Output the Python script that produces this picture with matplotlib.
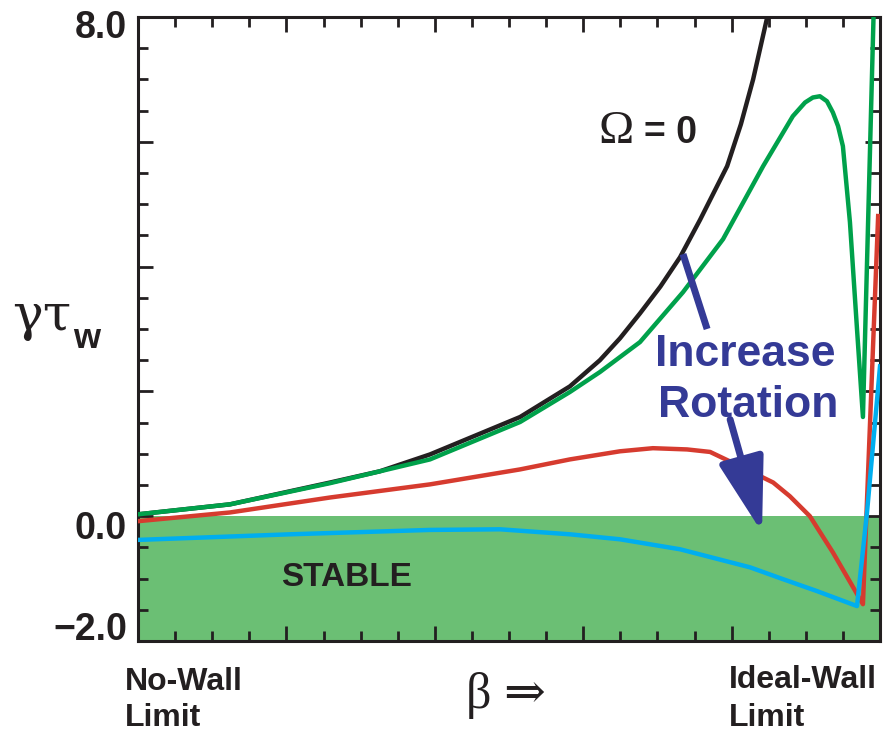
import matplotlib
matplotlib.use("Agg")
import matplotlib.pyplot as plt

# beta axis runs from the no-wall limit (0) to the ideal-wall limit (20)
beta_omega0 = [0, 2.48, 5.18, 6.52, 7.87, 10.30, 11.64, 12.45, 12.99, 13.53, 14.08, 14.61, 15.15,
               15.88, 16.25, 16.58, 17.0]
gam_omega0 = [0.03, 0.19, 0.54, 0.72, 0.99, 1.59, 2.08, 2.50, 2.85, 3.25, 3.68, 4.15, 4.75,
              5.61, 6.28, 7.00, 8.1]

beta_green = [0, 2.48, 5.18, 7.87, 10.30, 11.64, 12.45, 13.53, 14.69, 15.77, 16.85, 17.65, 17.98,
              18.19, 18.38, 18.57, 18.73, 18.87, 19.00, 19.19, 19.38, 19.54, 19.87]
gam_green = [0.03, 0.19, 0.53, 0.91, 1.51, 1.99, 2.31, 2.79, 3.59, 4.44, 5.61, 6.41, 6.63,
             6.71, 6.73, 6.65, 6.47, 6.25, 5.93, 4.71, 3.00, 1.59, 9.0]

beta_red = [0, 2.48, 5.18, 7.87, 10.30, 11.64, 12.99, 13.88, 14.80, 15.42, 16.23, 17.12, 17.57,
            18.11, 18.73, 19.54, 19.95]
gam_red = [-0.08, 0.06, 0.30, 0.51, 0.75, 0.91, 1.04, 1.09, 1.07, 1.03, 0.80, 0.54, 0.32,
           0.00, -0.58, -1.41, 4.81]

beta_blue = [0, 4.10, 7.87, 9.76, 11.64, 12.99, 14.61, 16.50, 17.39, 18.30, 19.38, 19.65, 20.0]
gam_blue = [-0.38, -0.29, -0.22, -0.21, -0.29, -0.37, -0.53, -0.82, -1.01, -1.20, -1.44, 0.06, 2.40]

ink = "#231f20"
navy = "#343a96"
sans = ["Liberation Sans", "DejaVu Sans"]
serif = ["Liberation Serif", "DejaVu Serif"]

fig = plt.figure(figsize=(8.84, 7.34), dpi=100)
ax = fig.add_axes([138 / 884, 93 / 734, 742 / 884, 624 / 734])

ax.axhspan(-2, 0, color="#6bbf74", zorder=0, lw=0)
ax.plot(beta_omega0, gam_omega0, color=ink, lw=3.2, zorder=3)
ax.plot(beta_green, gam_green, color="#00a14b", lw=3.2, zorder=3)
ax.plot(beta_red, gam_red, color="#d63b2f", lw=3.2, zorder=3)
ax.plot(beta_blue, gam_blue, color="#00aeef", lw=3.2, zorder=4)

ax.set_xlim(0, 20)
ax.set_ylim(-2, 8)
ax.set_xticks(range(0, 21, 4))
ax.set_xticks(range(0, 21), minor=True)
ax.set_yticks(range(-2, 9, 2))
ax.set_yticks([v / 2 for v in range(-4, 17)], minor=True)
ax.tick_params(which="both", direction="in", top=True, right=True, color=ink, width=2.0,
               labelbottom=False, labelleft=False)
ax.tick_params(which="major", length=11)
ax.tick_params(which="minor", length=7)
for s in ax.spines.values():
    s.set_linewidth(2.2)
    s.set_color(ink)

# y tick labels
ylab = ax.get_yaxis_transform()
for val, txt in [(7.82, "8.0"), (-0.2, "0.0"), (-1.83, "\u22122.0")]:
    ax.text(-0.015, val, txt, transform=ylab, ha="right", va="center", fontsize=27,
            fontweight="bold", family=sans, color=ink)

# annotations
ax.text(5.63, -0.98, "STABLE", ha="center", va="center", fontsize=24, fontweight="bold",
        family=sans, color=ink)
ax.text(13.35, 5.98, "\u03a9", ha="right", va="baseline", fontsize=34, family=serif, color=ink)
ax.text(13.65, 5.98, "= 0", ha="left", va="baseline", fontsize=27, fontweight="bold",
        family=sans, color=ink)
ax.text(16.36, 2.4, "Increase", ha="center", va="baseline", fontsize=32, fontweight="bold",
        family=sans, color=navy, zorder=6)
ax.text(16.44, 1.59, "Rotation", ha="center", va="baseline", fontsize=32, fontweight="bold",
        family=sans, color=navy, zorder=6)
ax.plot([14.69, 15.34], [4.20, 3.00], color=navy, lw=5, solid_capstyle="butt", zorder=5)
ax.annotate("", xy=(16.82, -0.26), xytext=(15.96, 1.55),
            arrowprops=dict(arrowstyle="-|>,head_length=4.6,head_width=1.4", color=navy,
                            lw=5, shrinkA=0, shrinkB=0), zorder=5)

# axis labels
fig.text(12 / 884, 1 - 330 / 734, "\u03b3\u03c4", fontsize=37, family=["DejaVu Serif"],
         color=ink, va="baseline", ha="left")
fig.text(73 / 884, 1 - 348 / 734, "w", fontsize=25, fontweight="bold", family=sans,
         color=ink, va="baseline", ha="left")
fig.text(466 / 884, 1 - 708 / 734, "\u03b2 \u21d2", fontsize=36, family=serif, color=ink,
         va="baseline", ha="left")
fig.text(125 / 884, 1 - 690 / 734, "No-Wall", fontsize=23, fontweight="bold", family=sans,
         color=ink, va="baseline", ha="left")
fig.text(125 / 884, 1 / 734, "Limit", fontsize=23, fontweight="bold", family=sans,
         color=ink, va="bottom", ha="left")
fig.text(729 / 884, 1 - 688 / 734, "Ideal-Wall", fontsize=23, fontweight="bold", family=sans,
         color=ink, va="baseline", ha="left")
fig.text(729 / 884, 1 / 734, "Limit", fontsize=23, fontweight="bold", family=sans,
         color=ink, va="bottom", ha="left")

fig.savefig("out.png", dpi=100)
